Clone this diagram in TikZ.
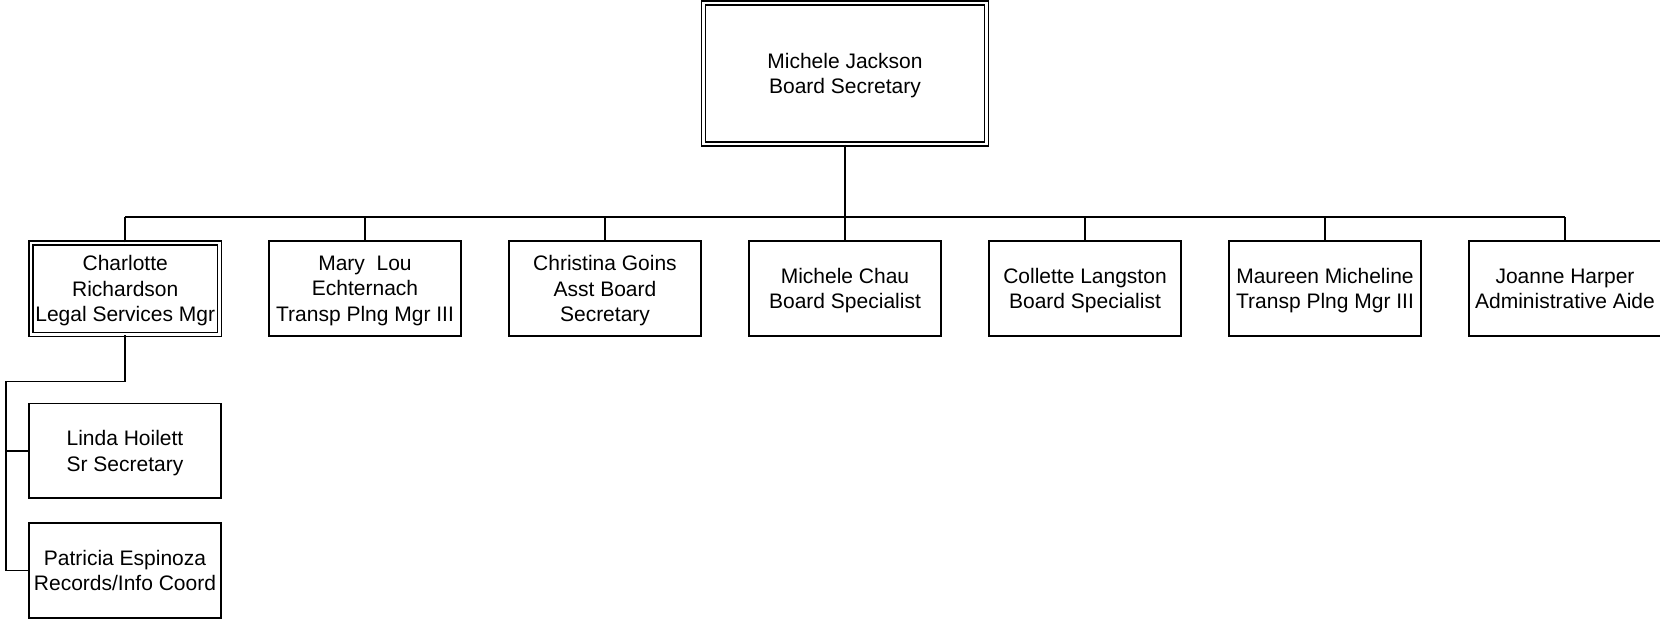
\documentclass[tikz,border=0pt]{standalone}
\usepackage{fontspec}
\setmainfont{Liberation Sans}
\begin{document}
\begin{tikzpicture}[x=1pt,y=-1pt,
  every node/.style={font=\fontsize{21}{25.4}\selectfont, align=center, inner sep=0pt, text depth=0pt},
  boxn/.style={draw, line width=1.7pt, minimum width=192pt, minimum height=95pt},
  dboxn/.style={draw, line width=1.3pt, double, double distance=2.6pt},
  conn/.style={line width=1.8pt}]
\useasboundingbox (0,0) rectangle (1660,621);
% top
\node[dboxn, minimum width=283pt, minimum height=141pt] (mj) at (845,73.5) {Michele Jackson\\Board Secretary};
% children
\node[dboxn, minimum width=188.5pt, minimum height=91.5pt] (cr) at (125.2,288.7) {Charlotte\\Richardson\\Legal Services Mgr};
\node[boxn] (ml) at (365,288.5) {Mary\ \ Lou\\Echternach\\Transp Plng Mgr III};
\node[boxn] (cg) at (605,288.5) {Christina Goins\\Asst Board\\Secretary};
\node[boxn] (mc) at (845,288.5) {Michele Chau\\Board Specialist};
\node[boxn] (cl) at (1085,288.5) {Collette Langston\\Board Specialist};
\node[boxn] (mm) at (1325,288.5) {Maureen Micheline\\Transp Plng Mgr III};
\node[boxn] (jh) at (1565,288.5) {Joanne Harper\\Administrative Aide};
% grandchildren
\node[boxn, minimum height=94.5pt] (lh) at (125,450.7) {Linda Hoilett\\Sr Secretary};
\node[boxn] (pe) at (125,570.5) {Patricia Espinoza\\Records/Info Coord};
% bus
\coordinate (busL) at (125,217);
\coordinate (busR) at (1565,217);
\draw[conn] (busL) -- (busR);
\draw[conn] (mj.south) -- (mj.south |- busL);
\foreach \n in {cr,ml,cg,mc,cl,mm,jh} {
  \draw[conn] (\n.north) -- (\n.north |- busL);
}
% subtree
\coordinate (sub) at (6,381.5);
\draw[conn] (cr.south) -- (cr.south |- sub) -- (sub) -- (sub |- pe.west) -- (pe.west);
\draw[conn] (sub |- lh.west) -- (lh.west);
\end{tikzpicture}
\end{document}
